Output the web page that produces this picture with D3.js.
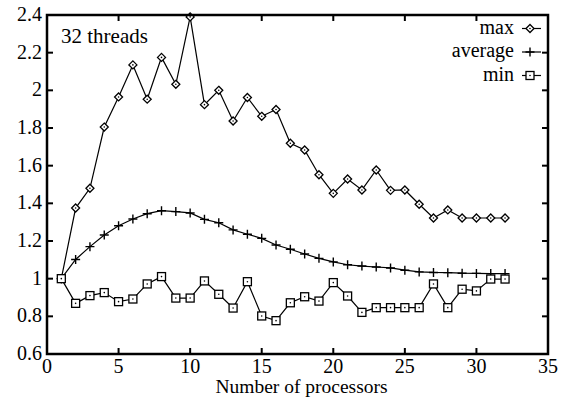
<!DOCTYPE html>
<html><head><meta charset="utf-8"><script src="https://cdn.jsdelivr.net/npm/d3@7"></script></head>
<body style="margin:0">
<svg id="s" width="572" height="402"></svg>
<script>
// processors 1..32
var procs = d3.range(1, 33);

var maxVals = [1.00, 1.375, 1.48, 1.805, 1.965, 2.135, 1.953, 2.175, 2.032, 2.39,
  1.924, 2.0, 1.837, 1.962, 1.862, 1.898, 1.719, 1.683, 1.552, 1.453,
  1.529, 1.471, 1.577, 1.469, 1.471, 1.395, 1.322, 1.365, 1.322, 1.322,
  1.322, 1.322];

var avgVals = [1.00, 1.102, 1.170, 1.232, 1.281, 1.317, 1.345, 1.361, 1.356, 1.349,
  1.315, 1.297, 1.259, 1.236, 1.214, 1.179, 1.156, 1.131, 1.108, 1.089,
  1.074, 1.067, 1.062, 1.057, 1.045, 1.036, 1.033, 1.032, 1.029, 1.028,
  1.027, 1.027];

var minVals = [1.00, 0.869, 0.910, 0.926, 0.878, 0.892, 0.972, 1.011, 0.897, 0.897,
  0.988, 0.917, 0.844, 0.984, 0.802, 0.777, 0.872, 0.904, 0.881, 0.979,
  0.908, 0.821, 0.846, 0.846, 0.846, 0.846, 0.972, 0.846, 0.944, 0.935,
  0.998, 0.998];

var xTicks = [0, 5, 10, 15, 20, 25, 30, 35];
var yTicks = [0.6, 0.8, 1, 1.2, 1.4, 1.6, 1.8, 2, 2.2, 2.4];

var seriesNames = ["max", "average", "min"];
var seriesData = [maxVals, avgVals, minVals];
var seriesMarks = ["diamond", "plus", "square"];

var margin = {top: 15, right: 24, bottom: 48, left: 47};
var W = 572, H = 402;
var svg = d3.select("#s");

var x = d3.scaleLinear().domain([0, 35]).range([margin.left, W - margin.right]);
var y = d3.scaleLinear().domain([0.6, 2.4]).range([H - margin.bottom, margin.top]);

// all text items, drawn straight onto the svg root
var texts = [];
xTicks.forEach(function(t) {
	texts.push({t: String(t), x: x(t), y: y(0.6) + 19, a: "middle", s: 20});
});
yTicks.forEach(function(t) {
	texts.push({t: String(t), x: x(0) - 5, y: y(t) + 6, a: "end", s: 20});
});
texts.push({t: "Number of processors", x: (x(0) + x(35)) / 2 + 4, y: 393, a: "middle", s: 19.5});
texts.push({t: "32 threads", x: 61, y: 43, a: "start", s: 21});

var legRight = 514, legY0 = 28.5, legStep = 23.5;
seriesNames.forEach(function(name, k) {
	texts.push({t: name, x: legRight, y: legY0 + k * legStep + 5, a: "end", s: 20});
});

svg.selectAll("text").data(texts).enter().append("text")
	.attr("x", function(d) { return d.x; })
	.attr("y", function(d) { return d.y; })
	.attr("text-anchor", function(d) { return d.a; })
	.attr("font-size", function(d) { return d.s; })
	.style("font-family", function(d) { return "'Liberation Serif', monospace"; })
	.text(function(d) { return d.t; });

var g = svg.append("g");

// tick marks, pointing inward on all four sides
var tickLen = 6;
xTicks.forEach(function(t) {
	if (t == 0 || t == 35) return;
	g.append("line").attr("x1", x(t)).attr("x2", x(t))
		.attr("y1", y(0.6)).attr("y2", y(0.6) - tickLen)
		.attr("stroke", "#000").attr("stroke-width", 2);
	g.append("line").attr("x1", x(t)).attr("x2", x(t))
		.attr("y1", y(2.4)).attr("y2", y(2.4) + tickLen)
		.attr("stroke", "#000").attr("stroke-width", 2);
});
yTicks.forEach(function(t) {
	if (t == 0.6 || t == 2.4) return;
	g.append("line").attr("x1", x(0)).attr("x2", x(0) + tickLen)
		.attr("y1", y(t)).attr("y2", y(t))
		.attr("stroke", "#000").attr("stroke-width", 2);
	g.append("line").attr("x1", x(35)).attr("x2", x(35) - tickLen)
		.attr("y1", y(t)).attr("y2", y(t))
		.attr("stroke", "#000").attr("stroke-width", 2);
});

function drawMark(sel, kind, cx, cy) {
	if (kind == "diamond") {
		var r = 4;
		sel.append("path")
			.attr("d", "M" + cx + "," + (cy - r) + "L" + (cx + r) + "," + cy + "L" + cx + "," + (cy + r) + "L" + (cx - r) + "," + cy + "Z")
			.attr("fill", "#fff").attr("stroke", "#000").attr("stroke-width", 1.3);
		sel.append("circle").attr("cx", cx).attr("cy", cy).attr("r", 0.8).attr("fill", "#000");
	} else if (kind == "square") {
		var s = 4;
		sel.append("rect").attr("x", cx - s).attr("y", cy - s)
			.attr("width", 2 * s).attr("height", 2 * s)
			.attr("fill", "#fff").attr("stroke", "#000").attr("stroke-width", 1.3);
		sel.append("circle").attr("cx", cx).attr("cy", cy).attr("r", 0.8).attr("fill", "#000");
	} else {
		var p = 4.5;
		sel.append("path")
			.attr("d", "M" + (cx - p) + "," + cy + "H" + (cx + p) + "M" + cx + "," + (cy - p) + "V" + (cy + p))
			.attr("stroke", "#000").attr("stroke-width", 1.4);
	}
}

var line = d3.line()
	.x(function(d, i) { return x(procs[i]); })
	.y(function(d) { return y(d); });

seriesData.forEach(function(vals, k) {
	var sg = g.append("g");
	sg.append("path").datum(vals)
		.attr("d", line)
		.attr("fill", "none").attr("stroke", "#000").attr("stroke-width", 1.2);
	vals.forEach(function(v, i) {
		drawMark(sg, seriesMarks[k], x(procs[i]), y(v));
	});
});

// legend samples
seriesNames.forEach(function(name, k) {
	var ly = legY0 + k * legStep;
	g.append("line").attr("x1", 522).attr("x2", 541).attr("y1", ly).attr("y2", ly)
		.attr("stroke", "#000").attr("stroke-width", 1.2);
	drawMark(g, seriesMarks[k], 530, ly);
});

// frame
g.append("rect")
	.attr("x", x(0)).attr("y", y(2.4))
	.attr("width", x(35) - x(0)).attr("height", y(0.6) - y(2.4))
	.attr("fill", "none").attr("stroke", "#000").attr("stroke-width", 2.5);
</script></body></html>
